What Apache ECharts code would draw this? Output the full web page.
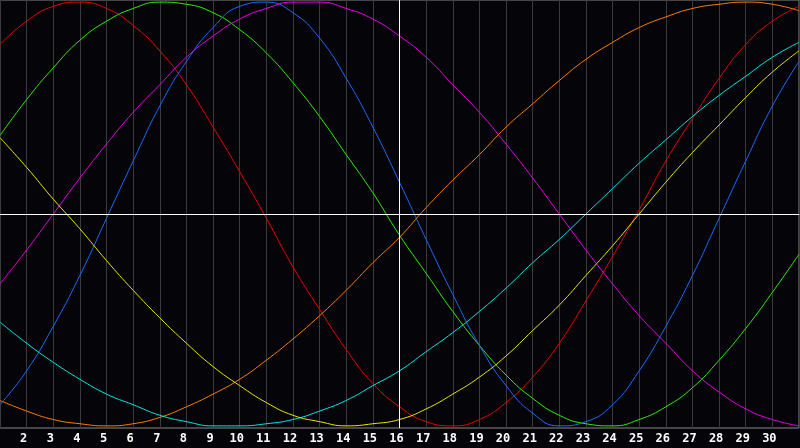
<!DOCTYPE html>
<html>
<head>
<meta charset="utf-8">
<style>
  html, body { margin: 0; padding: 0; background: #050408; }
  #chart { width: 800px; height: 448px; }
</style>
<script src="https://cdn.jsdelivr.net/npm/echarts@6/dist/echarts.min.js"></script>
</head>
<body>
<div id="chart"></div>
<script>
// days of the month shown on the x axis
var days = [1,2,3,4,5,6,7,8,9,10,11,12,13,14,15,16,17,18,19,20,21,22,23,24,25,26,27,28,29,30,31];
var today = 16;

// values, one per day (-1 .. 1)
var redVals = [0.80,0.91,0.98,1.00,0.97,0.89,0.77,0.61,0.41,0.20,-0.02,-0.25,-0.45,-0.64,-0.80,-0.91,-0.98,-1.00,-0.97,-0.89,-0.77,-0.61,-0.41,-0.20,0.02,0.25,0.45,0.64,0.80,0.91,0.98];
var greenVals = [0.37,0.54,0.69,0.82,0.91,0.97,1.00,0.99,0.95,0.87,0.76,0.62,0.46,0.28,0.10,-0.10,-0.28,-0.46,-0.62,-0.76,-0.87,-0.95,-0.99,-1.00,-0.97,-0.91,-0.82,-0.69,-0.54,-0.37,-0.19];
var blueVals = [-0.90,-0.74,-0.53,-0.29,-0.02,0.25,0.51,0.72,0.88,0.98,1.00,0.95,0.83,0.64,0.41,0.15,-0.12,-0.38,-0.62,-0.81,-0.94,-1.00,-0.98,-0.90,-0.74,-0.53,-0.29,-0.02,0.25,0.51,0.72];
var magentaVals = [-0.33,-0.17,0.00,0.17,0.33,0.48,0.61,0.74,0.84,0.92,0.97,1.00,1.00,0.97,0.92,0.84,0.74,0.61,0.48,0.33,0.17,0.00,-0.17,-0.33,-0.48,-0.61,-0.74,-0.84,-0.92,-0.97,-1.00];
var orangeVals = [-0.88,-0.93,-0.97,-0.99,-1.00,-0.99,-0.96,-0.91,-0.85,-0.78,-0.69,-0.59,-0.48,-0.36,-0.23,-0.11,0.03,0.16,0.28,0.41,0.52,0.63,0.73,0.81,0.88,0.93,0.97,0.99,1.00,0.99,0.96];
var cyanVals = [-0.51,-0.61,-0.70,-0.78,-0.85,-0.90,-0.95,-0.98,-1.00,-1.00,-0.99,-0.97,-0.93,-0.88,-0.81,-0.74,-0.65,-0.56,-0.46,-0.35,-0.23,-0.12,0.00,0.12,0.24,0.35,0.46,0.56,0.65,0.74,0.81];
var yellowVals = [0.36,0.22,0.07,-0.07,-0.22,-0.36,-0.49,-0.61,-0.72,-0.81,-0.89,-0.95,-0.98,-1.00,-0.99,-0.97,-0.92,-0.85,-0.77,-0.67,-0.55,-0.43,-0.29,-0.15,0.00,0.15,0.29,0.42,0.55,0.67,0.77];

var curves = [
    { name: "red", color: "#e80000", vals: redVals },
    { name: "green", color: "#2cf000", vals: greenVals },
    { name: "blue", color: "#1a6cff", vals: blueVals },
    { name: "magenta", color: "#e800e8", vals: magentaVals },
    { name: "orange", color: "#ff7f00", vals: orangeVals },
    { name: "cyan", color: "#00e8e8", vals: cyanVals },
    { name: "yellow", color: "#e8e800", vals: yellowVals }
];

function pairs(vals) {
    var out = [];
    for (var i = 0; i < days.length; i++) {
        out.push([days[i], vals[i]]);
    }
    return out;
}

var series = curves.map(function(c) {
    return {
        name: c.name,
        type: "line",
        data: pairs(c.vals),
        smooth: true,
        showSymbol: false,
        silent: true,
        lineStyle: { color: c.color, width: 1 }
    };
});

// white centre cross: zero line and today's line
series[0].markLine = {
    silent: true,
    symbol: "none",
    label: { show: false },
    lineStyle: { color: "#ffffff", width: 1, type: "solid" },
    data: [{ xAxis: today }, { yAxis: 0 }]
};

var chart = echarts.init(document.getElementById("chart"));
chart.setOption({
    backgroundColor: "#050408",
    animation: false,
    grid: {
        left: 0, right: 1, top: 0, bottom: 20,
        show: true,
        borderColor: "#8a8a8a",
        borderWidth: 1,
        backgroundColor: "transparent"
    },
    xAxis: {
        type: "value",
        min: 1,
        max: 31,
        interval: 1,
        axisLine: { show: true, lineStyle: { color: "#a0a0a0", width: 1 } },
        axisTick: { show: false },
        splitLine: { show: true, lineStyle: { color: "#3a3a3a", width: 1 } },
        axisLabel: {
            color: "#ffffff",
            fontFamily: "DejaVu Sans Mono",
            fontWeight: "bold",
            fontSize: 12,
            margin: 5,
            padding: [0, 6, 0, 0],
            showMinLabel: false,
            showMaxLabel: false
        }
    },
    yAxis: {
        type: "value",
        min: -1.01,
        max: 1.01,
        show: false,
        splitLine: { show: false }
    },
    series: series
});
window.onresize = function() {
    chart.resize();
};
</script>
</body>
</html>
